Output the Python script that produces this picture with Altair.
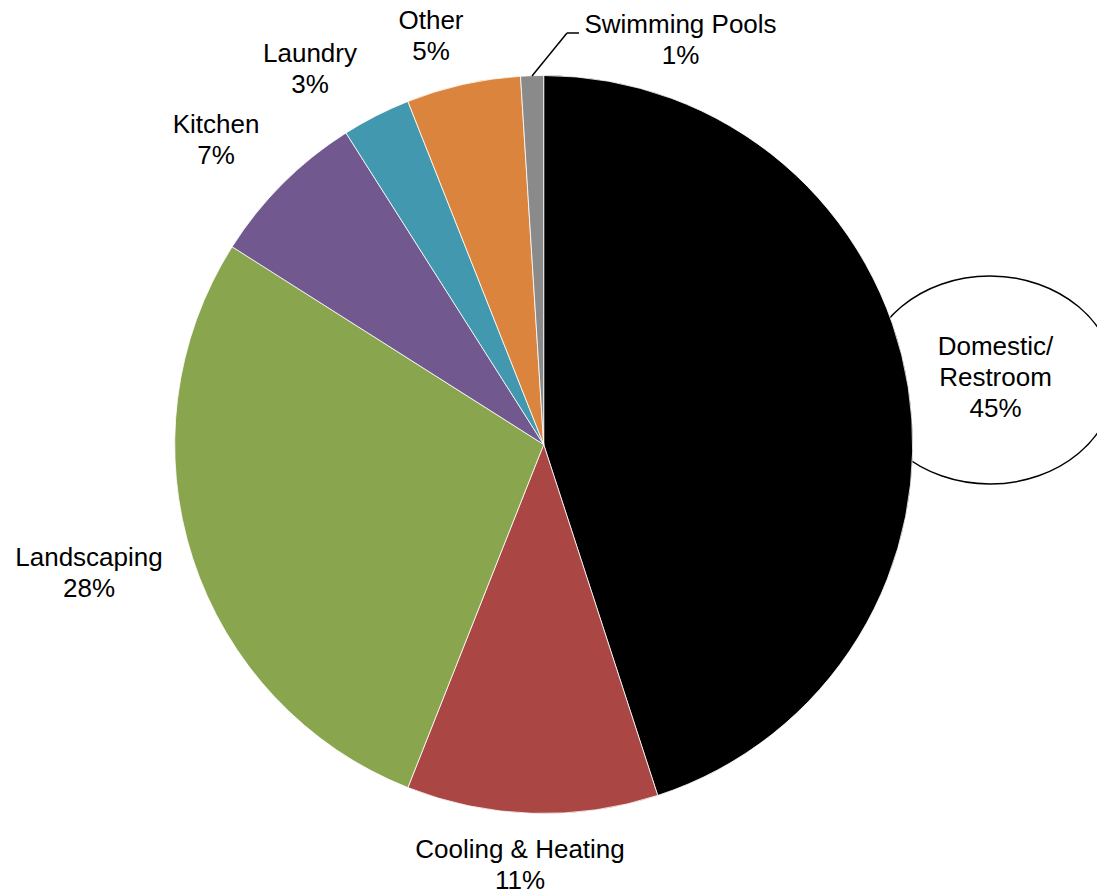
import altair as alt
import pandas as pd

# ---- data ----
categories = ["Domestic/Restroom", "Cooling & Heating", "Landscaping", "Kitchen",
              "Laundry", "Other", "Swimming Pools"]
values = [45, 11, 28, 7, 3, 5, 1]
label_names = ["Domestic/\nRestroom", "Cooling & Heating", "Landscaping", "Kitchen",
               "Laundry", "Other", "Swimming Pools"]
colors = ["#000000", "#AA4643", "#89A54E", "#71588F", "#4198AF", "#DB843D", "#8A8A8A"]

# ---- layout (label anchor positions, px in chart area) ----
label_x = [987.5, 512, 81, 208, 302, 423, 672.5]
label_y = [347, 850, 558, 125, 54, 21, 25]

W, H = 1089, 882
CX, CY, R = 535.7, 436.5, 369

df = pd.DataFrame({
    "category": categories,
    "value": values,
    "idx": list(range(len(categories))),
    "label": [f"{n}\n{v}%" for n, v in zip(label_names, values)],
    "lx": label_x,
    "ly": label_y,
})

base = alt.Chart(df)

# ellipse callout behind Domestic/Restroom
k = 0.5523
b = 0.832
ell_path = (f"M 1 0 C 1 {k*b:.4f} {k:.4f} {b} 0 {b} "
            f"C {-k:.4f} {b} -1 {k*b:.4f} -1 0 "
            f"C -1 {-k*b:.4f} {-k:.4f} {-b} 0 {-b} "
            f"C {k:.4f} {-b} 1 {-k*b:.4f} 1 0 Z")
ellipse = alt.Chart(pd.DataFrame({"a": [0]})).mark_point(
    shape=ell_path, filled=True, fill="white", stroke="black", strokeWidth=1.5,
    size=250 * 250, opacity=1
).encode(x=alt.value(982), y=alt.value(372))

pie = base.mark_arc(outerRadius=R, stroke="white", strokeWidth=0.8).encode(
    theta=alt.Theta("value:Q", stack=True),
    order=alt.Order("idx:Q"),
    color=alt.Color("category:N", scale=alt.Scale(domain=categories, range=colors),
                    legend=None),
    x=alt.value(CX),
    y=alt.value(CY),
)

leader1 = alt.Chart(pd.DataFrame({"a": [0]})).mark_rule(color="black", strokeWidth=1.5).encode(
    x=alt.value(524), y=alt.value(68), x2=alt.value(559), y2=alt.value(25))
leader2 = alt.Chart(pd.DataFrame({"a": [0]})).mark_rule(color="black", strokeWidth=1.5).encode(
    x=alt.value(559), y=alt.value(25), x2=alt.value(571), y2=alt.value(25))

labels = base.mark_text(
    font="Liberation Sans", fontSize=26, color="black", align="center",
    baseline="alphabetic", lineBreak="\n", lineHeight=31
).encode(
    x=alt.X("lx:Q", scale=None),
    y=alt.Y("ly:Q", scale=None),
    text="label:N",
)

chart = alt.layer(ellipse, pie, leader1, leader2, labels).properties(
    width=W, height=H, autosize=alt.AutoSizeParams(type="none"), padding=0
).configure_view(stroke=None)

chart.save("out.html", embed_options={"renderer": "svg", "actions": False})
